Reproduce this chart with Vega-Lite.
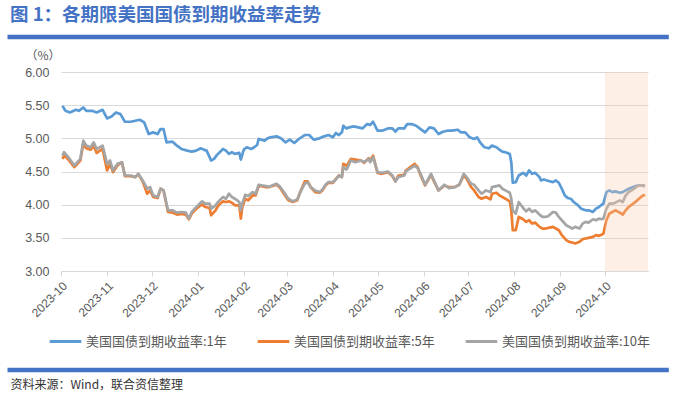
{
  "$schema": "https://vega.github.io/schema/vega-lite/v6.json",
  "width": 587,
  "height": 199,
  "autosize": {"type": "none"},
  "padding": {"left": 61, "top": 72, "right": 29, "bottom": 122},
  "background": "white",
  "title": {
    "text": "图 1：各期限美国国债到期收益率走势",
    "anchor": "start",
    "frame": "group",
    "dx": -51,
    "dy": -6,
    "font": "Noto Sans CJK SC",
    "fontSize": 18.5,
    "fontWeight": "bold",
    "color": "#4472C4"
  },
  "config": {
    "view": {"stroke": null},
    "axis": {
      "labelColor": "#595959",
      "domainColor": "#d9d9d9",
      "tickColor": "#d9d9d9",
      "gridColor": "#d9d9d9",
      "labelFont": "Liberation Sans"
    },
    "axisX": {
      "grid": false,
      "labelAngle": -45,
      "labelFontSize": 12,
      "tickSize": 5,
      "labelPadding": 4,
      "labelOverlap": false,
      "titleX": -51,
      "titleY": 113,
      "titleAlign": "left",
      "titleAnchor": null,
      "titleBaseline": "middle",
      "titleFont": "Noto Sans CJK SC",
      "titleFontSize": 12,
      "titleFontWeight": "normal",
      "titleColor": "#333333"
    },
    "axisY": {
      "grid": true,
      "domain": false,
      "ticks": false,
      "labelPadding": 12,
      "labelFontSize": 12.5,
      "labelOverlap": false,
      "titleAngle": 0,
      "titleX": -36,
      "titleY": -17,
      "titleAlign": "left",
      "titleBaseline": "middle",
      "titleFont": "Noto Sans CJK SC",
      "titleFontSize": 12,
      "titleFontWeight": "normal",
      "titleColor": "#595959"
    }
  },
  "datasets": {
    "y1": [
      {"t":"2023-10-02","v":5.49},{"t":"2023-10-04","v":5.415},{"t":"2023-10-07","v":5.39},{"t":"2023-10-11","v":5.43},{"t":"2023-10-13","v":5.415},{"t":"2023-10-16","v":5.465},{"t":"2023-10-18","v":5.415},{"t":"2023-10-22","v":5.415},{"t":"2023-10-25","v":5.39},{"t":"2023-10-29","v":5.43},
      {"t":"2023-11-01","v":5.30},{"t":"2023-11-04","v":5.33},{"t":"2023-11-07","v":5.39},{"t":"2023-11-10","v":5.365},{"t":"2023-11-13","v":5.25},{"t":"2023-11-17","v":5.25},{"t":"2023-11-20","v":5.265},{"t":"2023-11-23","v":5.28},{"t":"2023-11-26","v":5.24},{"t":"2023-11-29","v":5.065},
      {"t":"2023-12-02","v":5.09},{"t":"2023-12-05","v":5.065},{"t":"2023-12-07","v":5.14},{"t":"2023-12-09","v":5.14},{"t":"2023-12-11","v":4.94},{"t":"2023-12-15","v":4.95},{"t":"2023-12-18","v":4.89},{"t":"2023-12-21","v":4.84},{"t":"2023-12-25","v":4.815},{"t":"2023-12-28","v":4.80},{"t":"2023-12-31","v":4.815},
      {"t":"2024-01-03","v":4.85},{"t":"2024-01-05","v":4.83},{"t":"2024-01-07","v":4.815},{"t":"2024-01-10","v":4.665},{"t":"2024-01-12","v":4.69},{"t":"2024-01-14","v":4.75},{"t":"2024-01-18","v":4.84},{"t":"2024-01-20","v":4.815},{"t":"2024-01-22","v":4.765},{"t":"2024-01-24","v":4.79},{"t":"2024-01-26","v":4.765},{"t":"2024-01-29","v":4.78},{"t":"2024-01-30","v":4.68},
      {"t":"2024-02-01","v":4.83},{"t":"2024-02-03","v":4.865},{"t":"2024-02-06","v":4.84},{"t":"2024-02-08","v":4.865},{"t":"2024-02-10","v":4.90},{"t":"2024-02-11","v":4.99},{"t":"2024-02-15","v":4.965},{"t":"2024-02-17","v":5.00},{"t":"2024-02-19","v":5.015},{"t":"2024-02-23","v":5.03},{"t":"2024-02-26","v":5.00},{"t":"2024-02-29","v":4.94},
      {"t":"2024-03-03","v":4.98},{"t":"2024-03-06","v":4.93},{"t":"2024-03-09","v":4.99},{"t":"2024-03-13","v":5.05},{"t":"2024-03-16","v":5.05},{"t":"2024-03-19","v":4.98},{"t":"2024-03-23","v":5.00},{"t":"2024-03-26","v":5.03},{"t":"2024-03-29","v":5.05},
      {"t":"2024-04-01","v":5.015},{"t":"2024-04-03","v":5.08},{"t":"2024-04-05","v":5.05},{"t":"2024-04-07","v":5.09},{"t":"2024-04-08","v":5.19},{"t":"2024-04-10","v":5.15},{"t":"2024-04-12","v":5.165},{"t":"2024-04-15","v":5.18},{"t":"2024-04-18","v":5.165},{"t":"2024-04-21","v":5.15},{"t":"2024-04-24","v":5.215},{"t":"2024-04-26","v":5.20},{"t":"2024-04-28","v":5.25},
      {"t":"2024-05-01","v":5.115},{"t":"2024-05-04","v":5.115},{"t":"2024-05-08","v":5.15},{"t":"2024-05-11","v":5.15},{"t":"2024-05-13","v":5.10},{"t":"2024-05-15","v":5.15},{"t":"2024-05-19","v":5.15},{"t":"2024-05-21","v":5.215},{"t":"2024-05-24","v":5.215},{"t":"2024-05-27","v":5.19},{"t":"2024-05-30","v":5.14},
      {"t":"2024-06-02","v":5.09},{"t":"2024-06-05","v":5.165},{"t":"2024-06-08","v":5.15},{"t":"2024-06-11","v":5.065},{"t":"2024-06-14","v":5.10},{"t":"2024-06-17","v":5.115},{"t":"2024-06-20","v":5.115},{"t":"2024-06-24","v":5.13},{"t":"2024-06-26","v":5.09},{"t":"2024-06-29","v":5.09},
      {"t":"2024-07-02","v":5.015},{"t":"2024-07-05","v":4.99},{"t":"2024-07-07","v":5.015},{"t":"2024-07-09","v":4.94},{"t":"2024-07-12","v":4.865},{"t":"2024-07-15","v":4.85},{"t":"2024-07-17","v":4.89},{"t":"2024-07-20","v":4.865},{"t":"2024-07-22","v":4.83},{"t":"2024-07-24","v":4.80},{"t":"2024-07-26","v":4.79},{"t":"2024-07-29","v":4.765},{"t":"2024-07-30","v":4.64},{"t":"2024-07-31","v":4.33},
      {"t":"2024-08-02","v":4.34},{"t":"2024-08-04","v":4.44},{"t":"2024-08-07","v":4.48},{"t":"2024-08-09","v":4.44},{"t":"2024-08-11","v":4.515},{"t":"2024-08-13","v":4.465},{"t":"2024-08-15","v":4.48},{"t":"2024-08-18","v":4.415},{"t":"2024-08-19","v":4.365},{"t":"2024-08-21","v":4.38},{"t":"2024-08-23","v":4.365},{"t":"2024-08-27","v":4.34},{"t":"2024-08-29","v":4.365},{"t":"2024-08-31","v":4.33},
      {"t":"2024-09-02","v":4.24},{"t":"2024-09-04","v":4.14},{"t":"2024-09-06","v":4.10},{"t":"2024-09-08","v":4.09},{"t":"2024-09-10","v":4.04},{"t":"2024-09-13","v":3.99},{"t":"2024-09-15","v":3.94},{"t":"2024-09-18","v":3.915},{"t":"2024-09-20","v":3.915},{"t":"2024-09-23","v":3.89},{"t":"2024-09-25","v":3.94},{"t":"2024-09-27","v":3.965},{"t":"2024-09-29","v":4.00},{"t":"2024-09-30","v":4.015},
      {"t":"2024-10-02","v":4.19},{"t":"2024-10-04","v":4.215},{"t":"2024-10-06","v":4.19},{"t":"2024-10-08","v":4.20},{"t":"2024-10-11","v":4.18},{"t":"2024-10-13","v":4.19},{"t":"2024-10-15","v":4.215},{"t":"2024-10-17","v":4.24},{"t":"2024-10-20","v":4.265},{"t":"2024-10-22","v":4.28},{"t":"2024-10-24","v":4.29},{"t":"2024-10-26","v":4.29},{"t":"2024-10-28","v":4.28}
    ],
    "y5": [
      {"t":"2023-10-02","v":4.69},{"t":"2023-10-03","v":4.74},{"t":"2023-10-06","v":4.68},{"t":"2023-10-10","v":4.565},{"t":"2023-10-12","v":4.615},{"t":"2023-10-14","v":4.665},{"t":"2023-10-16","v":4.915},{"t":"2023-10-18","v":4.85},{"t":"2023-10-21","v":4.83},{"t":"2023-10-23","v":4.89},{"t":"2023-10-25","v":4.78},{"t":"2023-10-29","v":4.84},
      {"t":"2023-11-01","v":4.515},{"t":"2023-11-03","v":4.615},{"t":"2023-11-05","v":4.49},{"t":"2023-11-08","v":4.59},{"t":"2023-11-11","v":4.64},{"t":"2023-11-13","v":4.43},{"t":"2023-11-17","v":4.43},{"t":"2023-11-20","v":4.415},{"t":"2023-11-22","v":4.465},{"t":"2023-11-25","v":4.35},{"t":"2023-11-28","v":4.165},{"t":"2023-11-30","v":4.215},
      {"t":"2023-12-02","v":4.115},{"t":"2023-12-05","v":4.10},{"t":"2023-12-07","v":4.24},{"t":"2023-12-09","v":4.215},{"t":"2023-12-12","v":3.89},{"t":"2023-12-15","v":3.88},{"t":"2023-12-18","v":3.85},{"t":"2023-12-21","v":3.86},{"t":"2023-12-24","v":3.85},{"t":"2023-12-26","v":3.78},{"t":"2023-12-28","v":3.865},{"t":"2023-12-30","v":3.915},
      {"t":"2024-01-03","v":3.99},{"t":"2024-01-04","v":4.00},{"t":"2024-01-06","v":3.965},{"t":"2024-01-09","v":3.95},{"t":"2024-01-10","v":3.84},{"t":"2024-01-13","v":3.915},{"t":"2024-01-15","v":3.99},{"t":"2024-01-18","v":4.05},{"t":"2024-01-20","v":4.04},{"t":"2024-01-22","v":4.05},{"t":"2024-01-24","v":4.03},{"t":"2024-01-26","v":3.99},{"t":"2024-01-29","v":3.99},{"t":"2024-01-30","v":3.79},{"t":"2024-01-31","v":3.965},
      {"t":"2024-02-02","v":4.09},{"t":"2024-02-04","v":4.065},{"t":"2024-02-07","v":4.14},{"t":"2024-02-09","v":4.14},{"t":"2024-02-11","v":4.28},{"t":"2024-02-13","v":4.28},{"t":"2024-02-16","v":4.265},{"t":"2024-02-18","v":4.265},{"t":"2024-02-20","v":4.28},{"t":"2024-02-23","v":4.30},{"t":"2024-02-25","v":4.265},{"t":"2024-02-28","v":4.165},
      {"t":"2024-03-02","v":4.065},{"t":"2024-03-05","v":4.04},{"t":"2024-03-08","v":4.065},{"t":"2024-03-10","v":4.19},{"t":"2024-03-13","v":4.35},{"t":"2024-03-15","v":4.35},{"t":"2024-03-17","v":4.265},{"t":"2024-03-20","v":4.19},{"t":"2024-03-23","v":4.18},{"t":"2024-03-25","v":4.215},{"t":"2024-03-27","v":4.29},{"t":"2024-03-29","v":4.33},
      {"t":"2024-04-01","v":4.33},{"t":"2024-04-03","v":4.39},{"t":"2024-04-05","v":4.44},{"t":"2024-04-07","v":4.415},{"t":"2024-04-08","v":4.615},{"t":"2024-04-10","v":4.59},{"t":"2024-04-11","v":4.615},{"t":"2024-04-13","v":4.69},{"t":"2024-04-16","v":4.68},{"t":"2024-04-20","v":4.665},{"t":"2024-04-22","v":4.63},{"t":"2024-04-25","v":4.70},{"t":"2024-04-26","v":4.665},{"t":"2024-04-28","v":4.74},
      {"t":"2024-05-01","v":4.48},{"t":"2024-05-04","v":4.465},{"t":"2024-05-08","v":4.49},{"t":"2024-05-11","v":4.43},{"t":"2024-05-13","v":4.35},{"t":"2024-05-15","v":4.44},{"t":"2024-05-19","v":4.45},{"t":"2024-05-20","v":4.515},{"t":"2024-05-26","v":4.615},{"t":"2024-05-28","v":4.565},{"t":"2024-05-30","v":4.44},
      {"t":"2024-06-02","v":4.29},{"t":"2024-06-06","v":4.45},{"t":"2024-06-08","v":4.35},{"t":"2024-06-11","v":4.215},{"t":"2024-06-15","v":4.29},{"t":"2024-06-18","v":4.265},{"t":"2024-06-22","v":4.265},{"t":"2024-06-25","v":4.30},{"t":"2024-06-28","v":4.44},{"t":"2024-06-30","v":4.39},
      {"t":"2024-07-03","v":4.265},{"t":"2024-07-05","v":4.215},{"t":"2024-07-08","v":4.115},{"t":"2024-07-10","v":4.09},{"t":"2024-07-13","v":4.115},{"t":"2024-07-16","v":4.08},{"t":"2024-07-17","v":4.165},{"t":"2024-07-20","v":4.18},{"t":"2024-07-22","v":4.14},{"t":"2024-07-24","v":4.115},{"t":"2024-07-26","v":4.09},{"t":"2024-07-29","v":4.05},{"t":"2024-07-30","v":3.915},{"t":"2024-07-31","v":3.615},
      {"t":"2024-08-02","v":3.615},{"t":"2024-08-04","v":3.815},{"t":"2024-08-07","v":3.78},{"t":"2024-08-09","v":3.74},{"t":"2024-08-11","v":3.765},{"t":"2024-08-13","v":3.715},{"t":"2024-08-15","v":3.73},{"t":"2024-08-18","v":3.665},{"t":"2024-08-20","v":3.64},{"t":"2024-08-22","v":3.64},{"t":"2024-08-24","v":3.65},{"t":"2024-08-27","v":3.665},{"t":"2024-08-29","v":3.64},{"t":"2024-08-31","v":3.615},
      {"t":"2024-09-02","v":3.54},{"t":"2024-09-05","v":3.465},{"t":"2024-09-07","v":3.44},{"t":"2024-09-09","v":3.43},{"t":"2024-09-11","v":3.415},{"t":"2024-09-14","v":3.44},{"t":"2024-09-16","v":3.48},{"t":"2024-09-18","v":3.49},{"t":"2024-09-20","v":3.50},{"t":"2024-09-23","v":3.515},{"t":"2024-09-25","v":3.54},{"t":"2024-09-27","v":3.53},{"t":"2024-09-29","v":3.55},{"t":"2024-09-30","v":3.565},
      {"t":"2024-10-02","v":3.765},{"t":"2024-10-04","v":3.865},{"t":"2024-10-06","v":3.89},{"t":"2024-10-08","v":3.915},{"t":"2024-10-11","v":3.88},{"t":"2024-10-13","v":3.85},{"t":"2024-10-15","v":3.915},{"t":"2024-10-17","v":3.965},{"t":"2024-10-20","v":4.015},{"t":"2024-10-22","v":4.05},{"t":"2024-10-24","v":4.09},{"t":"2024-10-26","v":4.13},{"t":"2024-10-28","v":4.15}
    ],
    "y10": [
      {"t":"2023-10-02","v":4.74},{"t":"2023-10-03","v":4.79},{"t":"2023-10-06","v":4.715},{"t":"2023-10-10","v":4.59},{"t":"2023-10-12","v":4.64},{"t":"2023-10-14","v":4.69},{"t":"2023-10-16","v":4.965},{"t":"2023-10-18","v":4.89},{"t":"2023-10-21","v":4.865},{"t":"2023-10-23","v":4.94},{"t":"2023-10-25","v":4.84},{"t":"2023-10-29","v":4.89},
      {"t":"2023-11-01","v":4.615},{"t":"2023-11-03","v":4.665},{"t":"2023-11-05","v":4.515},{"t":"2023-11-08","v":4.615},{"t":"2023-11-11","v":4.64},{"t":"2023-11-13","v":4.44},{"t":"2023-11-17","v":4.44},{"t":"2023-11-20","v":4.415},{"t":"2023-11-22","v":4.465},{"t":"2023-11-25","v":4.365},{"t":"2023-11-28","v":4.24},{"t":"2023-11-30","v":4.265},
      {"t":"2023-12-02","v":4.14},{"t":"2023-12-05","v":4.115},{"t":"2023-12-07","v":4.24},{"t":"2023-12-09","v":4.215},{"t":"2023-12-12","v":3.915},{"t":"2023-12-15","v":3.915},{"t":"2023-12-18","v":3.88},{"t":"2023-12-21","v":3.89},{"t":"2023-12-24","v":3.88},{"t":"2023-12-26","v":3.79},{"t":"2023-12-28","v":3.89},{"t":"2023-12-30","v":3.94},
      {"t":"2024-01-03","v":4.03},{"t":"2024-01-04","v":4.05},{"t":"2024-01-06","v":4.015},{"t":"2024-01-09","v":4.015},{"t":"2024-01-10","v":3.94},{"t":"2024-01-13","v":3.99},{"t":"2024-01-15","v":4.05},{"t":"2024-01-18","v":4.115},{"t":"2024-01-20","v":4.09},{"t":"2024-01-22","v":4.165},{"t":"2024-01-24","v":4.115},{"t":"2024-01-26","v":4.09},{"t":"2024-01-29","v":4.04},{"t":"2024-01-30","v":3.915},{"t":"2024-01-31","v":4.015},
      {"t":"2024-02-02","v":4.15},{"t":"2024-02-04","v":4.13},{"t":"2024-02-07","v":4.19},{"t":"2024-02-09","v":4.165},{"t":"2024-02-11","v":4.30},{"t":"2024-02-13","v":4.29},{"t":"2024-02-16","v":4.28},{"t":"2024-02-18","v":4.265},{"t":"2024-02-20","v":4.29},{"t":"2024-02-23","v":4.315},{"t":"2024-02-25","v":4.28},{"t":"2024-02-28","v":4.19},
      {"t":"2024-03-02","v":4.09},{"t":"2024-03-05","v":4.05},{"t":"2024-03-08","v":4.08},{"t":"2024-03-10","v":4.19},{"t":"2024-03-13","v":4.315},{"t":"2024-03-15","v":4.34},{"t":"2024-03-17","v":4.265},{"t":"2024-03-20","v":4.215},{"t":"2024-03-23","v":4.19},{"t":"2024-03-25","v":4.23},{"t":"2024-03-27","v":4.30},{"t":"2024-03-29","v":4.34},
      {"t":"2024-04-01","v":4.34},{"t":"2024-04-03","v":4.38},{"t":"2024-04-05","v":4.44},{"t":"2024-04-07","v":4.415},{"t":"2024-04-08","v":4.565},{"t":"2024-04-10","v":4.53},{"t":"2024-04-11","v":4.565},{"t":"2024-04-13","v":4.665},{"t":"2024-04-16","v":4.64},{"t":"2024-04-20","v":4.665},{"t":"2024-04-22","v":4.64},{"t":"2024-04-25","v":4.69},{"t":"2024-04-26","v":4.64},{"t":"2024-04-28","v":4.715},
      {"t":"2024-05-01","v":4.49},{"t":"2024-05-04","v":4.48},{"t":"2024-05-08","v":4.50},{"t":"2024-05-11","v":4.44},{"t":"2024-05-13","v":4.35},{"t":"2024-05-15","v":4.415},{"t":"2024-05-19","v":4.44},{"t":"2024-05-20","v":4.50},{"t":"2024-05-26","v":4.59},{"t":"2024-05-28","v":4.55},{"t":"2024-05-30","v":4.465},
      {"t":"2024-06-02","v":4.30},{"t":"2024-06-06","v":4.465},{"t":"2024-06-08","v":4.365},{"t":"2024-06-11","v":4.215},{"t":"2024-06-15","v":4.30},{"t":"2024-06-18","v":4.25},{"t":"2024-06-22","v":4.265},{"t":"2024-06-25","v":4.30},{"t":"2024-06-28","v":4.465},{"t":"2024-06-30","v":4.415},
      {"t":"2024-07-03","v":4.315},{"t":"2024-07-05","v":4.30},{"t":"2024-07-08","v":4.215},{"t":"2024-07-10","v":4.165},{"t":"2024-07-13","v":4.215},{"t":"2024-07-16","v":4.19},{"t":"2024-07-17","v":4.265},{"t":"2024-07-20","v":4.28},{"t":"2024-07-22","v":4.29},{"t":"2024-07-24","v":4.24},{"t":"2024-07-26","v":4.215},{"t":"2024-07-29","v":4.18},{"t":"2024-07-30","v":4.09},{"t":"2024-07-31","v":3.915},
      {"t":"2024-08-02","v":3.865},{"t":"2024-08-04","v":4.04},{"t":"2024-08-07","v":3.95},{"t":"2024-08-09","v":3.90},{"t":"2024-08-11","v":3.94},{"t":"2024-08-13","v":3.89},{"t":"2024-08-15","v":3.915},{"t":"2024-08-18","v":3.85},{"t":"2024-08-20","v":3.815},{"t":"2024-08-22","v":3.815},{"t":"2024-08-24","v":3.83},{"t":"2024-08-27","v":3.89},{"t":"2024-08-29","v":3.88},{"t":"2024-08-31","v":3.815},
      {"t":"2024-09-02","v":3.765},{"t":"2024-09-05","v":3.69},{"t":"2024-09-07","v":3.665},{"t":"2024-09-09","v":3.64},{"t":"2024-09-11","v":3.665},{"t":"2024-09-14","v":3.64},{"t":"2024-09-16","v":3.715},{"t":"2024-09-18","v":3.74},{"t":"2024-09-20","v":3.73},{"t":"2024-09-23","v":3.78},{"t":"2024-09-25","v":3.765},{"t":"2024-09-27","v":3.79},{"t":"2024-09-29","v":3.78},{"t":"2024-09-30","v":3.79},
      {"t":"2024-10-02","v":3.94},{"t":"2024-10-04","v":4.015},{"t":"2024-10-06","v":4.015},{"t":"2024-10-08","v":4.03},{"t":"2024-10-11","v":4.065},{"t":"2024-10-13","v":4.04},{"t":"2024-10-15","v":4.14},{"t":"2024-10-17","v":4.19},{"t":"2024-10-20","v":4.23},{"t":"2024-10-22","v":4.265},{"t":"2024-10-24","v":4.29},{"t":"2024-10-26","v":4.29},{"t":"2024-10-28","v":4.28}
    ],
    "one": [{}]
  },
  "layer": [
    {
      "data": {"name": "y1"},
      "mark": {"type": "line", "strokeWidth": 2.7, "strokeJoin": "round"},
      "encoding": {
        "x": {
          "field": "t", "type": "temporal", "title": "资料来源：Wind，联合资信整理",
          "scale": {"domain": [{"year": 2023, "month": 10, "date": 1}, {"year": 2024, "month": 10, "date": 30}]},
          "axis": {"format": "%Y-%m", "tickCount": {"interval": "month", "step": 1}}
        },
        "y": {
          "field": "v", "type": "quantitative", "title": "（%）",
          "scale": {"domain": [3, 6], "zero": false, "nice": false},
          "axis": {"values": [3, 3.5, 4, 4.5, 5, 5.5, 6], "format": ".2f"}
        },
        "color": {
          "datum": "美国国债到期收益率:1年",
          "scale": {
            "domain": ["美国国债到期收益率:1年", "美国国债到期收益率:5年", "美国国债到期收益率:10年"],
            "range": ["#5B9BD5", "#ED7D31", "#A5A5A5"]
          },
          "legend": {
            "orient": "none", "legendX": -13, "legendY": 252, "direction": "horizontal", "columns": 3,
            "gridAlign": "none",
            "title": null, "symbolType": "stroke", "symbolSize": 1000, "symbolStrokeWidth": 3,
            "labelFont": "Noto Sans CJK SC", "labelFontSize": 13, "labelColor": "#595959",
            "labelLimit": 300, "columnPadding": 24, "labelOffset": 3
          }
        }
      }
    },
    {
      "data": {"name": "y5"},
      "mark": {"type": "line", "strokeWidth": 2.7, "strokeJoin": "round"},
      "encoding": {
        "x": {"field": "t", "type": "temporal", "title": "资料来源：Wind，联合资信整理", "axis": {"format": "%Y-%m", "tickCount": {"interval": "month", "step": 1}}},
        "y": {"field": "v", "type": "quantitative", "title": "（%）", "axis": {"values": [3, 3.5, 4, 4.5, 5, 5.5, 6], "format": ".2f"}},
        "color": {"datum": "美国国债到期收益率:5年"}
      }
    },
    {
      "data": {"name": "y10"},
      "mark": {"type": "line", "strokeWidth": 2.7, "strokeJoin": "round"},
      "encoding": {
        "x": {"field": "t", "type": "temporal", "title": "资料来源：Wind，联合资信整理", "axis": {"format": "%Y-%m", "tickCount": {"interval": "month", "step": 1}}},
        "y": {"field": "v", "type": "quantitative", "title": "（%）", "axis": {"values": [3, 3.5, 4, 4.5, 5, 5.5, 6], "format": ".2f"}},
        "color": {"datum": "美国国债到期收益率:10年"}
      }
    },
    {
      "data": {"name": "one"},
      "mark": {"type": "rect", "color": "#F8CBAD", "opacity": 0.3},
      "encoding": {
        "x": {"datum": {"year": 2024, "month": 10, "date": 1}, "type": "temporal", "title": "资料来源：Wind，联合资信整理", "axis": {"format": "%Y-%m", "tickCount": {"interval": "month", "step": 1}}},
        "x2": {"datum": {"year": 2024, "month": 10, "date": 30}},
        "y": {"datum": 6, "type": "quantitative", "title": "（%）", "axis": {"values": [3, 3.5, 4, 4.5, 5, 5.5, 6], "format": ".2f"}},
        "y2": {"datum": 3}
      }
    },
    {
      "data": {"name": "one"},
      "mark": {"type": "rule", "color": "#4472C4", "strokeWidth": 4.5},
      "encoding": {
        "x": {"datum": {"year": 2023, "month": 8, "date": 26}, "type": "temporal", "title": "资料来源：Wind，联合资信整理", "axis": {"format": "%Y-%m", "tickCount": {"interval": "month", "step": 1}}},
        "x2": {"datum": {"year": 2024, "month": 11, "date": 13}},
        "y": {"datum": 6.528, "type": "quantitative", "title": "（%）", "axis": {"values": [3, 3.5, 4, 4.5, 5, 5.5, 6], "format": ".2f"}}
      }
    },
    {
      "data": {"name": "one"},
      "mark": {"type": "rule", "color": "#4472C4", "strokeWidth": 4.5},
      "encoding": {
        "x": {"datum": {"year": 2023, "month": 8, "date": 26}, "type": "temporal", "title": "资料来源：Wind，联合资信整理", "axis": {"format": "%Y-%m", "tickCount": {"interval": "month", "step": 1}}},
        "x2": {"datum": {"year": 2024, "month": 11, "date": 13}},
        "y": {"datum": 1.507, "type": "quantitative", "title": "（%）", "axis": {"values": [3, 3.5, 4, 4.5, 5, 5.5, 6], "format": ".2f"}}
      }
    }
  ]
}
